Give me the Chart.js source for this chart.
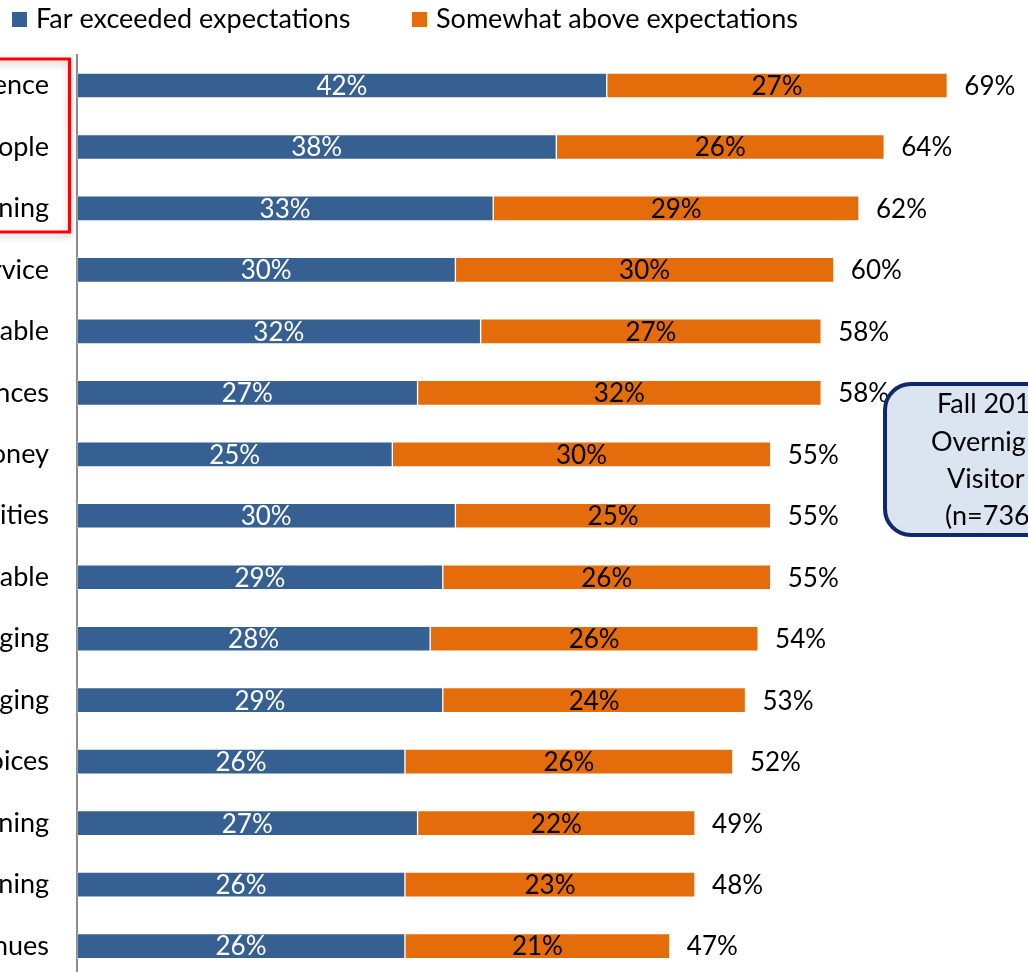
<!DOCTYPE html>
<html>
<head>
<meta charset="utf-8">
<script src="https://cdn.jsdelivr.net/npm/chart.js@4.4.1/dist/chart.umd.min.js"></script>
<style>
html, body { margin: 0; padding: 0; background: #fff; overflow: hidden; width: 1028px; height: 972px; }
#wrap { position: relative; width: 1028px; height: 1021px; }
</style>
</head>
<body>
<div id="wrap"><canvas id="chart"></canvas></div>
<script>
var categories = ["ence", "ople", "ning", "rvice", "able", "nces", "oney", "ities", "able", "ging", "ging", "oices", "ning", "ning", "nues"];
var farExceeded = [42, 38, 33, 30, 32, 27, 25, 30, 29, 28, 29, 26, 27, 26, 26];
var somewhatAbove = [27, 26, 29, 30, 27, 32, 30, 25, 26, 26, 24, 26, 22, 23, 21];
var totals = [69, 64, 62, 60, 58, 58, 55, 55, 55, 54, 53, 52, 49, 48, 47];
var seriesNames = ["Far exceeded expectations", "Somewhat above expectations"];
var seriesColors = ["#376092", "#e46c0a"];
var calloutLines = ["Fall 201", "Overnig", "Visitor", "(n=736"];

var FONT = "Lato";

// values inside each segment, totals after the stack
var barLabels = {
  id: "barLabels",
  afterDatasetsDraw: function(chart) {
    var ctx = chart.ctx;
    ctx.save();
    ctx.font = "26px " + FONT;
    ctx.textBaseline = "middle";
    chart.data.datasets.forEach(function(ds, di) {
      chart.getDatasetMeta(di).data.forEach(function(bar, i) {
        ctx.fillStyle = di === 0 ? "#fff" : "#000";
        ctx.textAlign = "center";
        ctx.fillText(ds.data[i] + "%", (bar.x + bar.base) / 2, bar.y + 1);
      });
    });
    var last = chart.getDatasetMeta(chart.data.datasets.length - 1);
    last.data.forEach(function(bar, i) {
      ctx.fillStyle = "#000";
      ctx.textAlign = "left";
      ctx.fillText(totals[i] + "%", bar.x + 17, bar.y + 1);
    });
    ctx.restore();
  }
};

// legend row, red highlight frame and the sample callout
var extras = {
  id: "extras",
  afterDraw: function(chart) {
    var ctx = chart.ctx;
    ctx.save();

    // legend
    var legendX = [12, 412];
    ctx.font = "27px " + FONT;
    ctx.textBaseline = "middle";
    ctx.textAlign = "left";
    chart.data.datasets.forEach(function(ds, i) {
      ctx.fillStyle = ds.backgroundColor;
      ctx.fillRect(legendX[i], 12, 15, 15);
      ctx.fillStyle = "#000";
      ctx.fillText(ds.label, legendX[i] + 24, 19);
    });

    // red frame round the top three rows
    ctx.save();
    ctx.shadowColor = "rgba(0,0,0,0.25)";
    ctx.shadowBlur = 7;
    ctx.shadowOffsetY = 3;
    ctx.strokeStyle = "#ff0000";
    ctx.lineWidth = 3;
    ctx.strokeRect(-20, 59, 89.5, 173);
    ctx.restore();

    // callout box
    ctx.beginPath();
    ctx.roundRect(885, 384, 200, 151, 26);
    ctx.fillStyle = "#dbe4f1";
    ctx.fill();
    ctx.lineWidth = 4;
    ctx.strokeStyle = "#0e2a6a";
    ctx.stroke();
    ctx.fillStyle = "#000";
    ctx.font = "27px " + FONT;
    var lx = [937, 931, 947, 945];
    var ly = [404, 442, 479, 516];
    calloutLines.forEach(function(t, i) {
      ctx.fillText(t, lx[i], ly[i]);
    });
    ctx.restore();
  }
};

function draw() {
  Chart.defaults.font.family = FONT;
  new Chart(document.getElementById("chart"), {
    type: "bar",
    data: {
      labels: categories,
      datasets: [
        { label: seriesNames[0], data: farExceeded, backgroundColor: seriesColors[0],
          borderColor: "rgba(255,255,255,0.45)", borderWidth: 1, borderSkipped: false, barThickness: 25 },
        { label: seriesNames[1], data: somewhatAbove, backgroundColor: seriesColors[1],
          borderColor: "rgba(255,255,255,0.45)", borderWidth: 1, borderSkipped: false, barThickness: 25 }
      ]
    },
    options: {
      indexAxis: "y",
      responsive: true,
      maintainAspectRatio: false,
      animation: false,
      layout: { padding: { top: 54.75, bottom: 2.75, right: 5, left: 0 } },
      plugins: { legend: { display: false }, tooltip: { enabled: false } },
      scales: {
        x: { stacked: true, display: false, min: 0, max: 75 },
        y: {
          stacked: true,
          afterFit: function(s) { s.width = 77; },
          grid: { display: false, drawTicks: false },
          border: { display: true, color: "#8c8c8c", width: 2 },
          ticks: { color: "#000", font: { family: FONT, size: 27 }, padding: 28, autoSkip: false }
        }
      }
    },
    plugins: [barLabels, extras]
  });
}

if (document.fonts && document.fonts.load) {
  document.fonts.load("26px " + FONT).then(draw, draw);
} else {
  draw();
}
</script>
</body>
</html>
